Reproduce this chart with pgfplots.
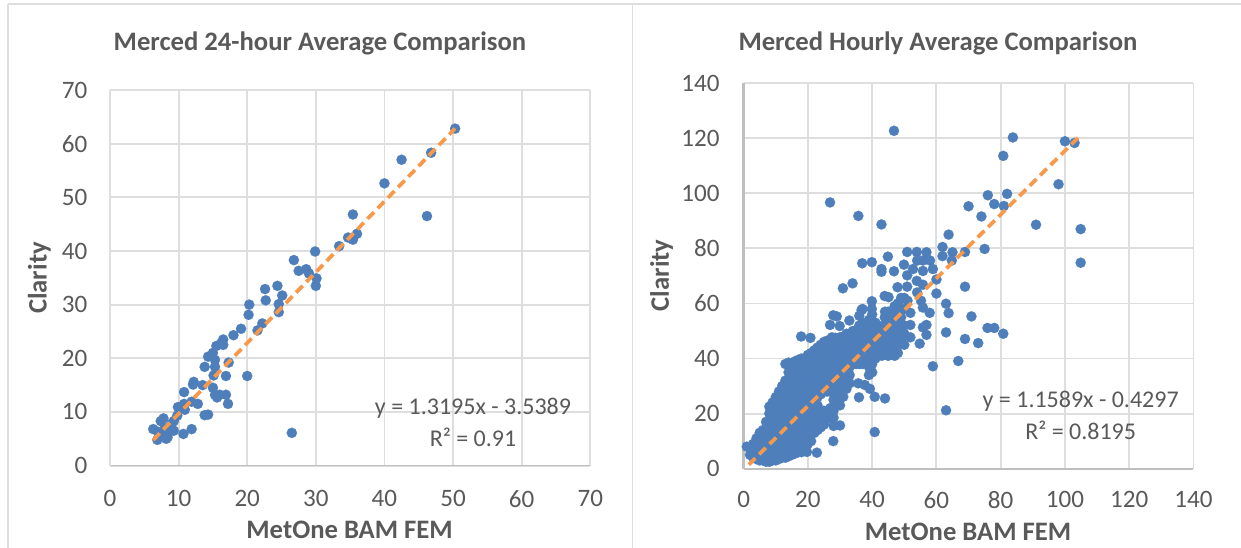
\documentclass[border=0pt]{standalone}
\usepackage{fontspec}
\setmainfont{Carlito}
\usepackage{pgfplots}
\pgfplotsset{compat=1.18}
\definecolor{dot}{HTML}{4E7FBB}
\definecolor{trend}{HTML}{F7984A}
\definecolor{gridc}{HTML}{DEDEDE}
\definecolor{axisc}{HTML}{BFBFBF}
\definecolor{txt}{HTML}{595959}
\pgfplotsset{
  chart/.style={
    scale only axis, clip=false,
    axis lines*=left,
    grid=major,
    grid style={gridc,line width=1.4pt},
    tick style={draw=none},
    major tick length=0pt,
    x axis line style={-,draw=axisc,line width=1.3pt},
    tick label style={font=\fontsize{18.8}{22}\selectfont,text=txt},
    /pgf/number format/assume math mode=true,
  },
  dots/.style={only marks,mark=*,mark size=3.85pt,mark options={draw=dot,fill=dot,line width=0.1pt}},
  fit/.style={no marks,trend,line width=2.8pt,dash pattern=on 7pt off 4pt},
}
\begin{document}
\begin{tikzpicture}
\path[use as bounding box] (0pt,0pt) rectangle (930.75pt,411pt);
\draw[gridc,line width=1pt] (6pt,408pt) -- (930.75pt,408pt);
\draw[gridc,line width=1pt] (6pt,408pt) -- (6pt,0pt);
\draw[gridc,line width=1pt] (474.5pt,408pt) -- (474.5pt,0pt);
\begin{axis}[chart,at={(82.5pt,61.8pt)},anchor=south west,width=360.2pt,height=281.7pt,
  xmin=0,xmax=70,ymin=0,ymax=70,xtick={0,10,...,70},ytick={0,10,...,70},
  xticklabel style={yshift=-15pt},yticklabel style={xshift=-13.5pt},
  y axis line style={-,draw=gridc,line width=1.4pt}]
\addplot[dots] coordinates {
(6.3,6.8)(6.9,4.8)(7.4,8.3)(7.8,8.8)(7.0,6.3)(7.6,5.6)(8.0,7.0)(8.2,5.0)(8.4,5.3)(8.8,6.6)
(9.3,6.5)(9.3,8.3)(9.0,7.8)(9.8,9.3)(9.9,10.9)(10.7,5.9)(10.8,11.5)(10.9,10.4)(10.8,13.7)(11.9,6.8)
(11.9,11.9)(12.8,11.5)(12.1,15.1)(12.2,15.6)(13.5,15.0)(13.8,9.4)(14.3,9.5)(13.8,18.4)(14.3,20.3)(15.0,21.0)
(15.3,19.7)(15.3,18.4)(15.1,16.8)(15.0,14.5)(15.3,13.2)(15.6,12.7)(16.0,13.2)(16.9,13.2)(17.2,11.5)(16.9,16.7)
(17.3,19.2)(15.5,22.3)(16.5,23.5)(16.5,22.5)(16.2,22.8)(18.0,24.3)(19.1,25.5)(20.0,16.7)(20.2,28.1)(20.3,30.0)
(21.5,25.2)(22.2,26.5)(22.6,32.9)(22.7,30.8)(24.4,33.5)(24.6,30.1)(24.6,28.6)(25.1,31.7)(26.8,38.3)(27.5,36.3)
(26.5,6.1)(28.6,36.6)(29.0,35.8)(30.1,34.9)(30.0,33.5)(29.9,39.9)(33.4,40.9)(34.7,42.5)(35.4,42.1)(36.0,43.2)
(35.4,46.8)(40.0,52.6)(42.5,57.0)(46.2,46.5)(46.8,58.3)(50.3,62.8)
};
\end{axis}
\begin{axis}[scale only axis,hide axis,clip=false,at={(82.5pt,61.8pt)},anchor=south west,width=360.2pt,height=281.7pt,
  xmin=0,xmax=70,ymin=0,ymax=70]
\addplot[fit] coordinates {(6.3,4.77)(50.3,62.83)};
\end{axis}
\begin{axis}[chart,at={(557.7pt,59.5pt)},anchor=south west,width=337.4pt,height=289.1pt,
  xmin=0,xmax=140,ymin=0,ymax=140,xtick={0,20,...,140},ytick={0,20,...,140},
  xticklabel style={yshift=-13.5pt},yticklabel style={xshift=-14.5pt},
  y axis line style={-,draw=axisc,line width=1.8pt}]
\addplot[dots] coordinates {
(1,8)(2,5)(2,8)(3,4)(3,6)(3,8)(3,9)(4,3.5)(4,6)(4,8.5)(4,11)
(5,3)(5,5)(5,7)(5,9)(5,11)(5,13)(6,3)(6,5)(6,8)(6,11)(6,14)
(7,2.5)(7,5)(7,8)(7,11)(7,14)(7,17)
(8,2.5)(8,5)(8,8)(8,11)(8,14)(8,17)(8,20)(8,22.5)
(9,3)(9,6)(9,9)(9,12)(9,15)(9,18)(9,21)(9,24)
(10,3)(10,6)(10,9)(10,12)(10,15)(10,18)(10,21)(10,24)(10,26)
(11,3.5)(11,6.5)(11,10)(11,13)(11,16)(11,19)(11,22)(11,25)(11,28)
(12,4)(12,7)(12,10)(12,13)(12,16)(12,19)(12,22)(12,25)(12,28)(12,30)
(13,4)(13,7)(13,10)(13,13)(13,16)(13,19)(13,22)(13,25)(13,28)(13,31)(13,32)(13,38)
(14,4.5)(14,8)(14,11)(14,14)(14,17)(14,20)(14,23)(14,26)(14,29)(14,32)(14,35)(14,38.5)
(15,5)(15,8)(15,11)(15,14)(15,17)(15,20)(15,23)(15,26)(15,29)(15,32)(15,35)(15,36)
(16,5.5)(16,9)(16,12)(16,15)(16,18)(16,21)(16,24)(16,27)(16,30)(16,33)(16,36)(16,39)
(17,6)(17,9)(17,12)(17,15)(17,18)(17,21)(17,24)(17,27)(17,30)(17,33)(17,36)(17,39.5)
(18,6)(18,10)(18,13)(18,16)(18,19)(18,22)(18,25)(18,28)(18,31)(18,34)(18,37)(18,40)(17.9,48)
(19,7)(19,11)(19,14)(19,17)(19,20)(19,23)(19,26)(19,29)(19,32)(19,35)(19,38)(19,40)
(19.7,6.1)(20,9)(20,12)(20,15)(20,18)(20,21)(20,24)(20,27)(20,30)(20,33)(20,36)(20,39)(20,41.3)
(21,10)(21,13)(21,16)(21,19)(21,22)(21,25)(21,28)(21,31)(21,34)(21,37)(21,40)(21,42)(20.8,47.5)
(22,13)(22,16)(22,19)(22,22)(22,25)(22,28)(22,31)(22,34)(22,37)(22,40)(22,43)
(22.8,5.8)(23,14)(23,17)(23,20)(23,23)(23,26)(23,29)(23,32)(23,35)(23,38)(23,41)(23,44)
(24,15)(24,18)(24,21)(24,27)(24,30)(24,33)(24,36)(24,39)(24,42)(24,45)
(25,16)(25,19)(25,21)(25,28)(25,31)(25,34)(25,37)(25,40)(25,43)(25,46)
(26,18)(26,20)(26,28)(26,30)(26,33)(26,36)(26,39)(26,42)(26,45)(26,46.5)
(27,19)(27,22)(27,28)(27,31)(27,34)(27,37)(27,40)(27,43)(27,46)(27.5,47.7)
(27.9,10)(28,15.5)(28,18.5)(28,21)(28,25)(28,30)(28,33)(28,36)(28,39)(28,42)(28,45)(28.5,47.5)
(29,23)(29,26)(29,29)(29,32)(29,35)(29,38)(29,41)(29,44)(29,47)
(30,15.7)(30,23)(30,28)(30,31)(30,34)(30,37)(30,40)(30,43)(30,46)(30,47.7)
(31,26.1)(31,30)(31,33)(31,36)(31,39)(31,42)(31,45)(31,48)
(32,29)(32,32)(32,35)(32,38)(32,41)(32,44)(32,47)(32,49)
(33,31)(33,34)(33,37)(33,40)(33,43)(33,46)(33,49)
(34,38)(34,40)(34,42)(34,45)(34,48)(34,50)
(35,38)(35,41)(35,44)(35,47)(35,50)
(36,38)(36,40)(36,43)(36,46)(36,49)(36,52)(36,55.5)(35.7,31)
(37,38)(37,41)(37,44)(37,47)(37,50)(37,53)(36.7,57.6)
(38,39)(38,42)(38,45)(38,48)(38,51)(38,53)(37.7,30.4)
(39,34)(39,37)(39,40)(39,43)(39,46)(39,49)(39,52)(39,54)(39.3,29)
(40,35)(40,38)(40,41)(40,44)(40,47)(40,50)(40,53)(40,56)(39.9,58)
(41,40)(41,44)(41,47)(41,50)(41,53)
(42,42)(42,45)(42,47)(42,50)(42,52)
(43,41)(43,44)(43,48)(43,51)
(44,43)(44,46)(44,49)(44,52)(44,55)(44,57)
(45,41)(45,44)(45,47)(45,50)(45,53)(45,57)
(46,43)(46,46)(46,49)(46,51)(46,54)(46,57)
(47,41)(47,44)(47,47)(47,50)(47,53)(47,56)(47,59)
(48,42)(48,45)(48,48)(48,51)(48,54)(48,57)(48,60)
(49,47)(49,51)(49,55)(49,58)(49,62)
(50,45)(50,49)(50,52)(50,58)(50,62)(51,61)
(46.8,122.7)(26.9,96.7)(35.7,91.8)(42.9,88.7)(83.8,120.3)(100,118.9)(103,118.3)(80.8,113.6)(98,103.3)(76,99.3)
(82,99.8)(78,96.1)(81,95.4)(70,95.3)(74,91.6)(91,88.6)(104.9,87)(104.9,74.8)(63.8,85)(61.9,80.5)
(61.9,77.2)(65,78.6)(64.8,75.6)(68.9,78.7)(75,79.8)(68.9,66.1)(60,68.7)(60,63.6)(63,59.9)(63.8,56.5)
(70.9,55.3)(75.9,51.1)(78,51.1)(80.8,49)(63,49.5)(68.9,47.1)(73,45.6)(66.8,39.1)(58.9,37.2)(63,21.2)
(40.8,13.3)(44,25.5)(40.8,26.1)(35.9,25.9)(26.9,52.2)(29.9,51.8)(27.9,55.7)(29,55.3)(32.9,53.8)(30.9,65.5)
(33.9,67.3)(36.9,74.6)(39.9,75)(42.9,72.5)(42.9,71.5)(46.8,71.7)(44.9,77)(49.9,74.1)(50.9,70.2)(50.9,78.7)
(53.9,78.7)(56.9,78.6)(54,75.6)(55.8,75.6)(58,75.6)(52.7,72.5)(55.8,71.8)(58.9,72.5)(53.9,68.2)(55.8,66.8)
(50.9,66.1)(47.9,65.9)(43.9,62.7)(45.1,62.3)(39.9,60.8)(55.2,61)(55.8,58.5)(57.9,56.6)(51.9,56.6)(51.9,52.2)
(55.8,51.3)(56.9,52.2)(56.9,48.6)(51.9,47.7)(54.8,45.4)(49,47)(37,58)(44,55)(54,64)
};
\end{axis}
\begin{axis}[scale only axis,hide axis,clip=false,at={(557.7pt,59.5pt)},anchor=south west,width=337.4pt,height=289.1pt,
  xmin=0,xmax=140,ymin=0,ymax=140]
\addplot[fit] coordinates {(1.6,1.43)(105,121.25)};
\end{axis}
\node[font=\fontsize{20}{24}\selectfont\bfseries,text=txt] at (240pt,378.7pt) {Merced 24-hour Average Comparison};
\node[font=\fontsize{20}{24}\selectfont\bfseries,text=txt] at (703.5pt,378.7pt) {Merced Hourly Average Comparison};
\node[font=\fontsize{20}{24}\selectfont\bfseries,text=txt] at (262.2pt,13.5pt) {MetOne BAM FEM};
\node[font=\fontsize{20}{24}\selectfont\bfseries,text=txt] at (726pt,12pt) {MetOne BAM FEM};
\node[font=\fontsize{20}{24}\selectfont\bfseries,text=txt,rotate=90] at (29.6pt,202.5pt) {Clarity};
\node[font=\fontsize{20}{24}\selectfont\bfseries,text=txt,rotate=90] at (496.2pt,204.5pt) {Clarity};
\node[font=\fontsize{18}{20}\selectfont,text=txt] at (354.75pt,105pt) {y = 1.3195x - 3.5389};
\node[font=\fontsize{18}{20}\selectfont,text=txt] at (354.75pt,83.25pt) {R² = 0.91};
\node[font=\fontsize{18}{20}\selectfont,text=txt] at (810.5pt,110.25pt) {y = 1.1589x - 0.4297};
\node[font=\fontsize{18}{20}\selectfont,text=txt] at (810.5pt,88pt) {R² = 0.8195};
\end{tikzpicture}
\end{document}
